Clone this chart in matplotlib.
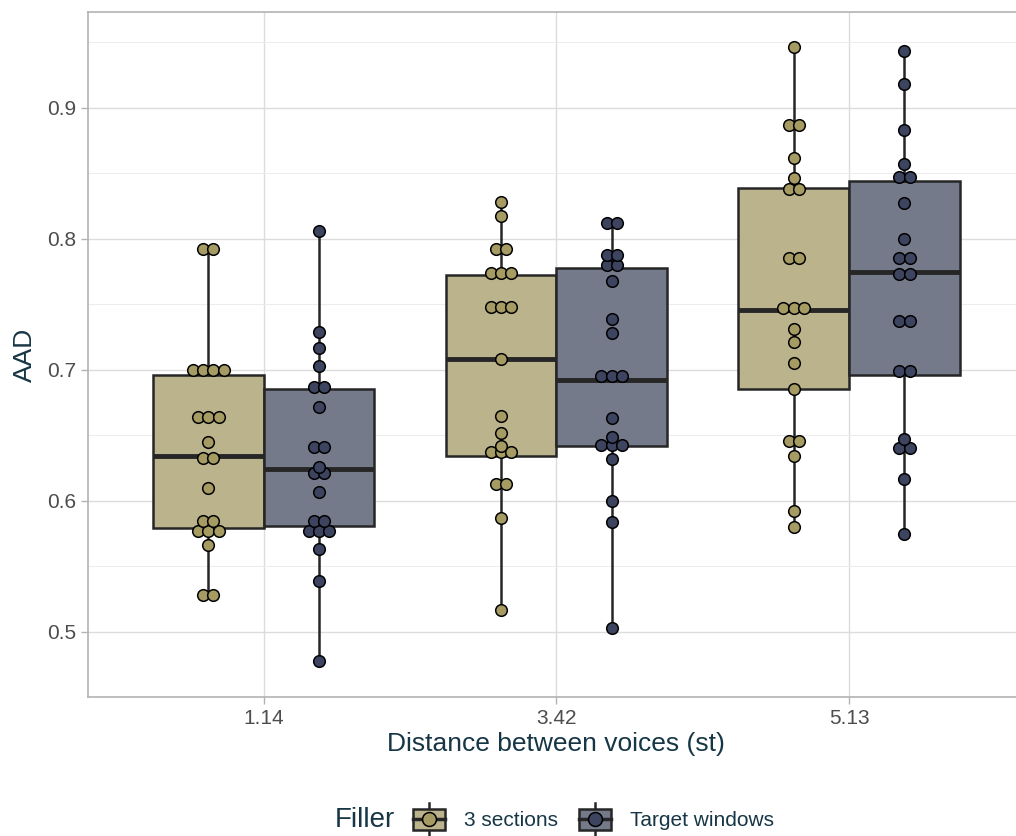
import numpy as np
import matplotlib.pyplot as plt
from matplotlib.patches import Rectangle, Patch
from matplotlib.lines import Line2D
from matplotlib.legend_handler import HandlerBase

plt.rcParams['font.family'] = ['Liberation Sans', 'DejaVu Sans']

distances = ["1.14", "3.42", "5.13"]
fillers = ["3 sections", "Target windows"]

# AAD values, one list per distance and filler
sec_114 = [0.792, 0.792, 0.700, 0.700, 0.700, 0.700, 0.664, 0.664, 0.664, 0.645,
           0.633, 0.633, 0.610, 0.585, 0.585, 0.577, 0.577, 0.577, 0.566, 0.528, 0.528]
tgt_114 = [0.806, 0.729, 0.717, 0.703, 0.687, 0.687, 0.672, 0.641, 0.641, 0.626,
           0.621, 0.621, 0.607, 0.585, 0.585, 0.577, 0.577, 0.577, 0.563, 0.539, 0.478]
sec_342 = [0.828, 0.817, 0.792, 0.792, 0.774, 0.774, 0.774, 0.748, 0.748, 0.748,
           0.708, 0.665, 0.652, 0.642, 0.637, 0.637, 0.637, 0.613, 0.613, 0.587, 0.517]
tgt_342 = [0.812, 0.812, 0.788, 0.788, 0.780, 0.780, 0.768, 0.739, 0.728, 0.695,
           0.695, 0.695, 0.663, 0.649, 0.643, 0.643, 0.643, 0.632, 0.600, 0.584, 0.503]
sec_513 = [0.946, 0.887, 0.887, 0.862, 0.846, 0.838, 0.838, 0.785, 0.785, 0.747,
           0.747, 0.747, 0.731, 0.721, 0.705, 0.685, 0.646, 0.646, 0.634, 0.592, 0.580]
tgt_513 = [0.943, 0.918, 0.883, 0.857, 0.847, 0.847, 0.827, 0.800, 0.785, 0.785,
           0.773, 0.773, 0.737, 0.737, 0.699, 0.699, 0.647, 0.640, 0.640, 0.617, 0.575]

# box statistics as drawn (q1, median, q3)
sec_q1 = [0.579, 0.634, 0.685]
sec_med = [0.634, 0.708, 0.746]
sec_q3 = [0.696, 0.772, 0.839]
tgt_q1 = [0.581, 0.642, 0.696]
tgt_med = [0.624, 0.692, 0.775]
tgt_q3 = [0.685, 0.778, 0.844]

groups = {
    "3 sections": ([sec_114, sec_342, sec_513], sec_q1, sec_med, sec_q3),
    "Target windows": ([tgt_114, tgt_342, tgt_513], tgt_q1, tgt_med, tgt_q3),
}
box_colors = {"3 sections": "#bbb38b", "Target windows": "#747a89"}
dot_colors = {"3 sections": "#a69c63", "Target windows": "#3d4460"}
offsets = {"3 sections": -0.189, "Target windows": 0.189}

line_col = "#262626"
title_col = "#163645"

fig = plt.figure(figsize=(10.16, 8.36), dpi=100)
ax = fig.add_axes([0.0866, 0.1663, 0.922, 0.8193])

for name, (vals, q1, med, q3) in groups.items():
    stats = []
    for i in range(3):
        stats.append(dict(med=med[i], q1=q1[i], q3=q3[i],
                          whislo=min(vals[i]), whishi=max(vals[i]), fliers=[]))
    pos = np.arange(1, 4) + offsets[name]
    ax.bxp(stats, positions=pos, widths=0.378, showfliers=False, showcaps=False,
           patch_artist=True,
           boxprops=dict(facecolor=box_colors[name], edgecolor=line_col, linewidth=1.8),
           whiskerprops=dict(color=line_col, linewidth=1.8),
           medianprops=dict(color=line_col, linewidth=3.5, solid_capstyle="butt"),
           zorder=2)
    # dots stacked sideways when values coincide
    step = 0.0352
    for i in range(3):
        v = np.array(vals[i])
        xs, ys = [], []
        for u in np.unique(v):
            k = int(np.sum(v == u))
            for j in range(k):
                xs.append(pos[i] + (j - (k - 1) / 2) * step)
                ys.append(u)
        ax.scatter(xs, ys, s=70, facecolor=dot_colors[name], edgecolor="black",
                   linewidth=1.1, zorder=3)

ax.set_xlim(0.4, 3.6)
ax.set_ylim(0.4504, 0.973)
ax.set_xticks([1, 2, 3])
ax.set_xticklabels(distances)
ax.set_yticks([0.5, 0.6, 0.7, 0.8, 0.9])
ax.set_yticks([0.55, 0.65, 0.75, 0.85, 0.95], minor=True)
ax.grid(True, which="major", color="#dcdcdc", linewidth=1.0, zorder=0)
ax.grid(True, which="minor", axis="y", color="#ececec", linewidth=0.7, zorder=0)
ax.set_axisbelow(True)
for sp in ax.spines.values():
    sp.set_color("#b3b3b3")
    sp.set_linewidth(1.2)
ax.tick_params(axis="both", which="major", colors="#b3b3b3", labelcolor="#4d4d4d",
               labelsize=15, length=5, width=1)
ax.tick_params(axis="y", which="minor", length=0)
ax.set_xlabel("Distance between voices (st)", fontsize=19, color=title_col, labelpad=3)
ax.set_ylabel("AAD", fontsize=19, color=title_col, labelpad=7)


class HandlerBoxDot(HandlerBase):
    def create_artists(self, legend, orig_handle, xdescent, ydescent, width, height,
                       fontsize, trans):
        fc = orig_handle.get_facecolor()
        dc = dot_colors[orig_handle.get_label()]
        cx = width / 2 - xdescent
        cy = height / 2 - ydescent
        bw, bh = width * 1.0, height * 1.05
        arts = [
            Line2D([cx, cx], [cy - bh * 0.78, cy + bh * 0.78], color=line_col, lw=1.8),
            Rectangle((cx - bw / 2, cy - bh / 2), bw, bh, facecolor=fc,
                      edgecolor=line_col, lw=1.8),
            Line2D([cx - bw / 2, cx + bw / 2], [cy, cy], color=line_col, lw=2.5),
            Line2D([cx], [cy], marker="o", markersize=10, markerfacecolor=dc,
                   markeredgecolor="black", markeredgewidth=1.1),
        ]
        for a in arts:
            a.set_transform(trans)
        return arts


handles = [Patch(facecolor=box_colors[f], label=f) for f in fillers]
fig.text(0.329, 0.0105, "Filler", fontsize=20, color=title_col, va="baseline")
fig.legend(handles=handles, labels=fillers, handler_map={Patch: HandlerBoxDot()},
           loc="center left", bbox_to_anchor=(0.388, 0.0195), ncol=2, frameon=False,
           fontsize=15, handlelength=1.55, handleheight=1.1, handletextpad=0.9,
           columnspacing=1.0, labelcolor=title_col)

fig.savefig("out.png", dpi=100)
